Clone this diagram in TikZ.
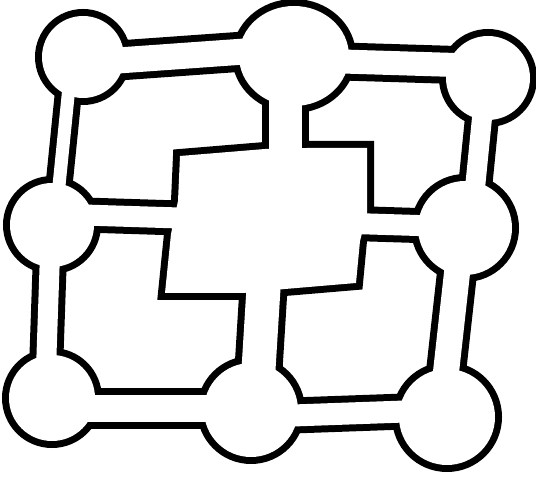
\documentclass[tikz,border=0pt]{standalone}
\usepackage{tikz}
\usetikzlibrary{calc}
\definecolor{ink}{HTML}{000000}

\newcommand\balllist{tl/41/41, tm/55/50, tr/42/42, ml/42/42, mr/47/47, bl/43/43, bm/47/47, br/48/48}
\newcommand\tubelist{tl/{0,6}/tm/{0,-8}/33, tm/{0,4}/tr/{0,-12}/31, tr/{-2,0}/mr/{6,0}/27,
  mr/{-3,0}/br/{-6,0}/33, br/{0,-7}/bm/{0,7}/29, bm/{0,-1}/bl/{0,11}/34,
  bl/{-7,0}/ml/{-1,0}/27, ml/{3,0}/tl/{-11,0}/20, ml/{0,-11}/mr/{0,-1}/28,
  tm/{-9,0}/hub/{20,-40}/40, bm/{5,0}/hub/{-1,60}/41}
\newcommand\hubshape{(180,156) -- (265,149) -- (307,148) -- (367,148) -- (367,213) -- (360,241)
  -- (356,283) -- (285,289) -- (243,293) -- (165,293) -- (171,234) -- (178,201) -- cycle}

\begin{document}
\begin{tikzpicture}[
  x=0.2mm,y=-0.2mm,
  rimout/.style={draw=ink,fill=white,line width=2.8mm},
  rimin/.style={fill=white},
  tubeout/.style={draw=ink,line width={(#1+7)*0.2mm}},
  tubein/.style={draw=white,line width={(#1-7)*0.2mm}},
  hubout/.style={draw=ink,fill=white,line width=2.8mm,line join=miter},
  hubin/.style={fill=white}]
  \useasboundingbox[fill=white] (0,0) rectangle (536,479);
  \coordinate (tl) at (83,57);
  \coordinate (tm) at (294,56);
  \coordinate (tr) at (488,78);
  \coordinate (ml) at (52,225);
  \coordinate (mr) at (465,228);
  \coordinate (bl) at (52,398);
  \coordinate (bm) at (251,410);
  \coordinate (br) at (447,417);
  \coordinate (hub) at (265,220);

  % black rims
  \foreach \p/\rx/\ry in \balllist
    \draw[rimout] (\p) ellipse[x radius=\rx,y radius=\ry];
  \foreach \a/\da/\b/\db/\w in \tubelist
    \draw[tubeout=\w] ($(\a)+(\da)$) -- ($(\b)+(\db)$);
  \draw[hubout] \hubshape;

  % white inside
  \foreach \p/\rx/\ry in \balllist
    \fill[rimin] (\p) ellipse[x radius=\rx,y radius=\ry];
  \foreach \a/\da/\b/\db/\w in \tubelist
    \draw[tubein=\w] ($(\a)+(\da)$) -- ($(\b)+(\db)$);
  \fill[hubin] \hubshape;
\end{tikzpicture}
\end{document}
